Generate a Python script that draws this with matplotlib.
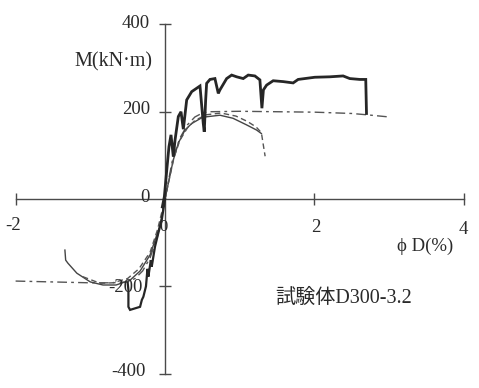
import matplotlib
matplotlib.use("Agg")
import matplotlib.pyplot as plt

# ---- data (phi*D in %, M in kN*m) ----
exp_pos_x = [-0.036, -0.009, 0.023, 0.053, 0.080, 0.111, 0.134, 0.178, 0.214, 0.245,
             0.290, 0.357, 0.468, 0.512, 0.525, 0.544, 0.557, 0.602, 0.668, 0.713,
             0.735, 0.825, 0.892, 0.959, 1.047, 1.114, 1.203, 1.270, 1.297, 1.317,
             1.36, 1.448, 1.582, 1.715, 1.782, 2.005, 2.206, 2.384, 2.473, 2.607,
             2.687, 2.697]
exp_pos_y = [-18, 5, 66, 120, 147, 97, 135, 189, 200, 160,
             227, 246, 259, 173, 154, 227, 265, 274, 276, 242,
             250, 276, 284, 280, 276, 284, 282, 273, 208, 250,
             261, 271, 269, 266, 274, 279, 280, 282, 276, 274,
             274, 196]

exp_neg_x = [0.0, -0.044, -0.09, -0.134, -0.156, -0.178, -0.19, -0.223, -0.235, -0.255,
             -0.29, -0.31, -0.334, -0.468, -0.49, -0.49, -0.5]
exp_neg_y = [0, -48, -78, -109, -132, -155, -140, -178, -160, -200,
             -224, -231, -247, -254, -247, -208, -192]

# analysis 1 (dash-dot, flat plateau)
ana1_x = [-2.0, -1.5, -1.0, -0.7, -0.5, -0.4, -0.3, -0.2, -0.1, -0.05, 0.0,
          0.05, 0.1, 0.2, 0.3, 0.4, 0.5, 0.6, 1.0, 1.5, 2.0, 2.5, 2.7, 3.0]
ana1_y = [-188, -190, -192, -192, -190, -182, -165, -135, -85, -45, 0,
          45, 90, 140, 170, 188, 197, 200, 201, 200, 199, 196, 193, 188]

# analysis 2 (thin solid)
ana2_x = [-1.34, -1.33, -1.30, -1.18, -1.0, -0.83, -0.655, -0.468, -0.334, -0.2, -0.067, 0.0,
          0.044, 0.11, 0.178, 0.267, 0.357, 0.49, 0.535, 0.735, 0.91, 1.09, 1.226, 1.29]
ana2_y = [-117, -140, -147, -170, -190, -197, -197, -186, -165, -128, -60, 0,
          36, 89, 128, 158, 173, 186, 188, 192, 185, 170, 158, 150]

# analysis 3 (dashed, drops at the end)
ana3_x = [-1.1, -0.87, -0.7, -0.5, -0.35, -0.2, -0.1, 0.0,
          0.05, 0.12, 0.2, 0.3, 0.4, 0.55, 0.75, 0.95, 1.1, 1.22, 1.29, 1.31, 1.34]
ana3_y = [-178, -193, -192, -182, -160, -122, -70, 0,
          40, 95, 135, 163, 180, 193, 197, 190, 178, 165, 152, 130, 98]

x_ticks = [-2, 2, 4]
y_ticks = [-400, -200, 200, 400]

W, H = 479, 388
fig = plt.figure(figsize=(W / 100, H / 100), dpi=100)
ax = fig.add_axes([0, 0, 1, 1])
ax.set_xlim(-2.209, 4.203)
ax.set_ylim(-433, 456)

axc = '#4a4a4a'
for s in ['top', 'right']:
    ax.spines[s].set_visible(False)
ax.spines['left'].set_position(('data', 0))
ax.spines['bottom'].set_position(('data', 0))
ax.spines['left'].set_bounds(-400, 400)
ax.spines['bottom'].set_bounds(-2, 4)
for s in ['left', 'bottom']:
    ax.spines[s].set_color(axc)
    ax.spines[s].set_linewidth(1.0)
    ax.spines[s].set_zorder(1)
ax.set_xticks(x_ticks)
ax.set_yticks(y_ticks)
ax.tick_params(axis='both', direction='inout', length=9, width=1.0, color=axc,
               labelleft=False, labelbottom=False)

ink = '#262626'
ax.plot(ana1_x, ana1_y, color='#555555', lw=1.0, ls=(0, (7, 3, 2, 3)), zorder=2)
ax.plot(ana2_x, ana2_y, color='#444444', lw=1.0, zorder=2)
ax.plot(ana3_x, ana3_y, color='#555555', lw=1.0, ls=(0, (4, 2.5)), zorder=2)
ax.plot(exp_pos_x, exp_pos_y, color=ink, lw=2.0, zorder=3, solid_joinstyle='miter')
ax.plot(exp_neg_x, exp_neg_y, color=ink, lw=1.6, zorder=3, solid_joinstyle='miter')

serif = ['Liberation Serif', 'Noto Sans CJK JP']
tc = '#2a2a2a'

def ptext(px, py, s, size=13.5, ha='center', va='center'):
    fig.text(px / W, 1 - py / H, s, fontsize=size, ha=ha, va=va,
             family=serif, color=tc)

ptext(150, 23, '400', ha='right')
ptext(152, 62, 'M(kN·m)', size=14.5, ha='right')
ptext(150, 110, '200', ha='right')
ptext(145, 197, '0')
ptext(143, 287, '-200', ha='right')
ptext(146, 372, '-400', ha='right')
ptext(13, 225, '-2')
ptext(316, 228, '2')
ptext(463, 230, '4')
ptext(164, 227, '0', size=12)
ptext(425, 246, 'ϕ D(%)')
ptext(344, 298, '試験体D300-3.2', size=14.5)

fig.savefig('out.png', dpi=100)
